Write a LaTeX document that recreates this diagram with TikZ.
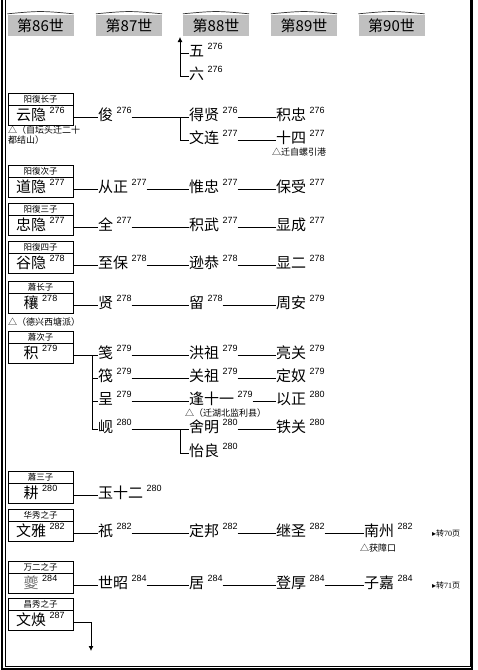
\documentclass[tikz,border=0pt]{standalone}
\usepackage{fontspec}
\setmainfont{Noto Sans CJK SC}
\newfontfamily\latinf{Liberation Sans}
\newfontfamily\serff{Liberation Serif}
\newfontfamily\symf{DejaVu Sans}
\usetikzlibrary{positioning,arrows.meta}
\definecolor{TabGray}{RGB}{192,192,192}
\newcommand\person[2]{#1\kern3.5pt\smash{\raisebox{7pt}{\latinf\fontsize{9}{9}\selectfont #2}}}
\tikzset{
  tab/.style={fill=TabGray,minimum width=66pt,minimum height=21pt,inner sep=0pt,font=\fontsize{15}{15}\selectfont},
  roof/.style={draw=black!80,line width=0.7pt},
  famname/.style={draw,line width=0.8pt,minimum width=65pt,minimum height=20pt,inner sep=0pt,outer sep=0pt,font=\fontsize{15}{15}\selectfont},
  famhead/.style={draw,line width=0.8pt,minimum width=65pt,minimum height=12pt,inner sep=0pt,outer sep=0pt,font=\fontsize{8.5}{8.5}\selectfont},
  who/.style={anchor=west,inner sep=0pt,outer sep=0pt,text height=13.5pt,text depth=7.5pt,font=\fontsize{15}{15}\selectfont},
  note/.style={anchor=west,inner sep=0pt,align=left,font=\fontsize{9}{10.5}\selectfont},
  jump/.style={anchor=west,inner sep=0pt,font=\fontsize{8}{8}\selectfont},
  link/.style={draw,line width=0.8pt},
}

\begin{document}
\begin{tikzpicture}[x=1pt,y=-1pt]
\useasboundingbox (0,0) rectangle (478,670);
% page frame
\draw[line width=2pt] (1.7,0) -- (1.7,668.7) -- (472.3,668.7) -- (472.3,0);
\draw[line width=0.8pt] (5.5,0) -- (5.5,666) -- (470,666) -- (470,0);

% generation tabs
\node[tab] (g86) at (40.5,25.5) {第86世};
\node[tab] (g87) at (129,25.5) {第87世};
\node[tab] (g88) at (216,25.5) {第88世};
\node[tab] (g89) at (304,25.5) {第89世};
\node[tab] (g90) at (391.5,25.5) {第90世};
\draw[roof] ([yshift=1pt]g86.north west) .. controls ([yshift=4pt]g86.north) .. ([yshift=1pt]g86.north east);
\draw[roof] ([yshift=1pt]g87.north west) .. controls ([yshift=4pt]g87.north) .. ([yshift=1pt]g87.north east);
\draw[roof] ([yshift=1pt]g88.north west) .. controls ([yshift=4pt]g88.north) .. ([yshift=1pt]g88.north east);
\draw[roof] ([yshift=1pt]g89.north west) .. controls ([yshift=4pt]g89.north) .. ([yshift=1pt]g89.north east);
\draw[roof] ([yshift=1pt]g90.north west) .. controls ([yshift=4pt]g90.north) .. ([yshift=1pt]g90.north east);

% carried over from the page before
\node[who] (wu) at (189,53.5) {\person{五}{276}};
\node[who] (liu) at (189,76.5) {\person{六}{276}};
\coordinate (up-end) at (180,37);
\draw[link,-{Latex[length=5pt,width=5pt]}] (liu.west) -| (up-end);
\draw[link] (wu.west -| up-end) -- (wu.west);

% yunyin
\node[famname] (yunyin) at (40.5,115) {\person{云隐}{276}};
\node[famhead,above=0pt of yunyin] (yunyin-t) {阳復长子};
\node[note] (yunyin-n) at (8,135) {△（自坛头迁二十\\都结山）};
\node[who] (jun) at (98,117.5) {\person{俊}{276}};
\node[who] (dexian) at (189,117.5) {\person{得贤}{276}};
\node[who] (jizhong) at (276,117.5) {\person{积忠}{276}};
\node[who] (wenlian) at (189,140.5) {\person{文连}{277}};
\node[who] (shisi) at (276,140.5) {\person{十四}{277}};
\node[note] (shisi-n) at (272,152) {△迁自螺引港};
\coordinate (fork-jun) at (180,117.5);
\draw[link] (yunyin.east |- jun.west) -- (jun.west);
\draw[link] (jun.east) -- (dexian.west);
\draw[link] (fork-jun) |- (wenlian.west);
\draw[link] (dexian.east) -- (jizhong.west);
\draw[link] (wenlian.east) -- (shisi.west);

% daoyin
\node[famname] (daoyin) at (40.5,187) {\person{道隐}{277}};
\node[famhead,above=0pt of daoyin] (daoyin-t) {阳復次子};
\node[who] (congzheng) at (98,189.5) {\person{从正}{277}};
\node[who] (weizhong) at (189,189.5) {\person{惟忠}{277}};
\node[who] (baoshou) at (276,189.5) {\person{保受}{277}};
\draw[link] (daoyin.east |- congzheng.west) -- (congzheng.west);
\draw[link] (congzheng.east) -- (weizhong.west);
\draw[link] (weizhong.east) -- (baoshou.west);

% zhongyin
\node[famname] (zhongyin) at (40.5,225) {\person{忠隐}{277}};
\node[famhead,above=0pt of zhongyin] (zhongyin-t) {阳復三子};
\node[who] (quan) at (98,227.5) {\person{全}{277}};
\node[who] (jiwu) at (189,227.5) {\person{积武}{277}};
\node[who] (xiancheng) at (276,227.5) {\person{显成}{277}};
\draw[link] (zhongyin.east |- quan.west) -- (quan.west);
\draw[link] (quan.east) -- (jiwu.west);
\draw[link] (jiwu.east) -- (xiancheng.west);

% guyin
\node[famname] (guyin) at (40.5,263) {\person{谷隐}{278}};
\node[famhead,above=0pt of guyin] (guyin-t) {阳復四子};
\node[who] (zhibao) at (98,265.5) {\person{至保}{278}};
\node[who] (xungong) at (189,265.5) {\person{逊恭}{278}};
\node[who] (xianer) at (276,265.5) {\person{显二}{278}};
\draw[link] (guyin.east |- zhibao.west) -- (zhibao.west);
\draw[link] (zhibao.east) -- (xungong.west);
\draw[link] (xungong.east) -- (xianer.west);

% rang
\node[famname] (rang) at (40.5,303) {\person{穰}{278}};
\node[famhead,above=0pt of rang] (rang-t) {蕭长子};
\node[note] (rang-n) at (8,322) {△（德兴西塘派）};
\node[who] (xian) at (98,305.5) {\person{贤}{278}};
\node[who] (liuu) at (189,305.5) {\person{留}{278}};
\node[who] (zhouan) at (276,305.5) {\person{周安}{279}};
\draw[link] (rang.east |- xian.west) -- (xian.west);
\draw[link] (xian.east) -- (liuu.west);
\draw[link] (liuu.east) -- (zhouan.west);

% ji
\node[famname] (ji) at (40.5,353) {\person{积}{279}};
\node[famhead,above=0pt of ji] (ji-t) {蕭次子};
\node[who] (jian) at (98,355.5) {\person{笺}{279}};
\node[who] (fa) at (98,378.5) {\person{筏}{279}};
\node[who] (cheng) at (98,401.5) {\person{呈}{279}};
\node[who] (xiann) at (98,429.5) {\person{岘}{280}};
\node[who] (hongzu) at (189,355.5) {\person{洪祖}{279}};
\node[who] (guanzu) at (189,378.5) {\person{关祖}{279}};
\node[who] (fengshiyi) at (189,401.5) {\person{逢十一}{279}};
\node[note] (fengshiyi-n) at (185,413) {△（迁湖北监利县）};
\node[who] (sheming) at (189,429.5) {\person{舍明}{280}};
\node[who] (yiliang) at (189,453.5) {\person{怡良}{280}};
\node[who] (liangguan) at (276,355.5) {\person{亮关}{279}};
\node[who] (dingnu) at (276,378.5) {\person{定奴}{279}};
\node[who] (yizheng) at (276,401.5) {\person{以正}{280}};
\node[who] (tieguan) at (276,429.5) {\person{铁关}{280}};
\coordinate (fork-ji) at (92,355.5);
\coordinate (fork-xiann) at (180,429.5);
\draw[link] (ji.east |- jian.west) -- (jian.west);
\draw[link] (fork-ji) |- (fa.west);
\draw[link] (fork-ji) |- (cheng.west);
\draw[link] (fork-ji) |- (xiann.west);
\draw[link] (jian.east) -- (hongzu.west);
\draw[link] (fa.east) -- (guanzu.west);
\draw[link] (cheng.east) -- (fengshiyi.west);
\draw[link] (xiann.east) -- (sheming.west);
\draw[link] (fork-xiann) |- (yiliang.west);
\draw[link] (hongzu.east) -- (liangguan.west);
\draw[link] (guanzu.east) -- (dingnu.west);
\draw[link] (fengshiyi.east) -- (yizheng.west);
\draw[link] (sheming.east) -- (tieguan.west);

% geng
\node[famname] (geng) at (40.5,493) {\person{耕}{280}};
\node[famhead,above=0pt of geng] (geng-t) {蕭三子};
\node[who] (yushier) at (98,495.5) {\person{玉十二}{280}};
\draw[link] (geng.east |- yushier.west) -- (yushier.west);

% wenya
\node[famname] (wenya) at (40.5,531) {\person{文雅}{282}};
\node[famhead,above=0pt of wenya] (wenya-t) {华秀之子};
\node[who] (qi) at (98,533.5) {\person{祇}{282}};
\node[who] (dingbang) at (189,533.5) {\person{定邦}{282}};
\node[who] (jisheng) at (276,533.5) {\person{继圣}{282}};
\node[who] (nanzhou) at (364,533.5) {\person{南州}{282}};
\node[note] (nanzhou-n) at (360,548) {△获障口};
\node[jump] (to70) at (432,533.5) {{\symf ▸}转{\serff 70}页};
\draw[link] (wenya.east |- qi.west) -- (qi.west);
\draw[link] (qi.east) -- (dingbang.west);
\draw[link] (dingbang.east) -- (jisheng.west);
\draw[link] (jisheng.east) -- (nanzhou.west);

% kui
\node[famname] (kui) at (40.5,583) {\person{\textcolor{black!55}{夔}}{284}};
\node[famhead,above=0pt of kui] (kui-t) {万二之子};
\node[who] (shizhao) at (98,585.5) {\person{世昭}{284}};
\node[who] (ju) at (189,585.5) {\person{居}{284}};
\node[who] (denghou) at (276,585.5) {\person{登厚}{284}};
\node[who] (zijia) at (364,585.5) {\person{子嘉}{284}};
\node[jump] (to71) at (432,585.5) {{\symf ▸}转{\serff 71}页};
\draw[link] (kui.east |- shizhao.west) -- (shizhao.west);
\draw[link] (shizhao.east) -- (ju.west);
\draw[link] (ju.east) -- (denghou.west);
\draw[link] (denghou.east) -- (zijia.west);

% wenhuan
\node[famname] (wenhuan) at (40.5,620) {\person{文焕}{287}};
\node[famhead,above=0pt of wenhuan] (wenhuan-t) {昌秀之子};
\coordinate (down-end) at (91,651);
\draw[link,-{Latex[length=5pt,width=5pt]}] ([yshift=-2.5pt]wenhuan.east) -| (down-end);
\end{tikzpicture}
\end{document}
